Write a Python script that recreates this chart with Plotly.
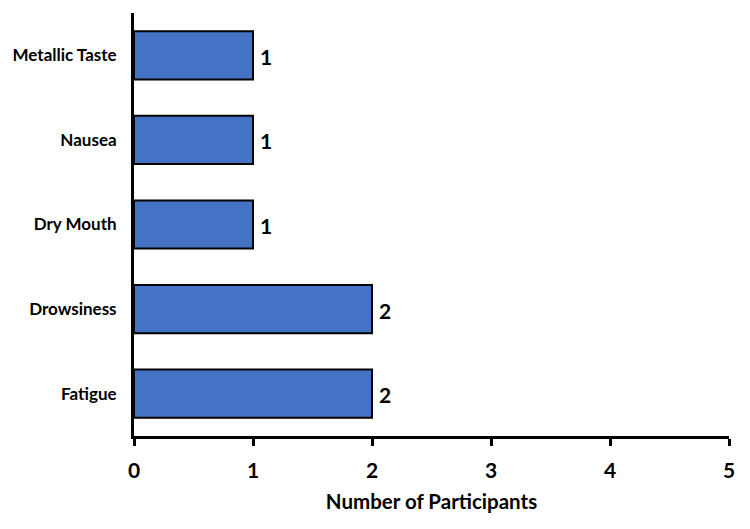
import plotly.graph_objects as go

categories = ["Fatigue", "Drowsiness", "Dry Mouth", "Nausea", "Metallic Taste"]
values = [2, 2, 1, 1, 1]
x_ticks = [0, 1, 2, 3, 4, 5]

FONT = "Lato"

fig = go.Figure(
    go.Bar(
        y=categories,
        x=values,
        orientation="h",
        width=0.57,
        marker=dict(color="#4472C4", line=dict(color="black", width=2)),
        cliponaxis=False,
    )
)

for c, v in zip(categories, values):
    fig.add_annotation(
        x=v, y=c, text=str(v), showarrow=False,
        xanchor="left", xshift=5, yshift=-1,
        font=dict(family=FONT, size=21, color="black", weight="bold"),
    )

fig.update_layout(
    width=750,
    height=529,
    margin=dict(l=134, r=21, t=13, b=93),
    plot_bgcolor="white",
    paper_bgcolor="white",
    showlegend=False,
    font=dict(family=FONT, color="black"),
)

fig.update_xaxes(
    range=[0, 5],
    tickvals=x_ticks,
    ticktext=[str(t) for t in x_ticks],
    automargin=False,
    showgrid=False,
    zeroline=False,
    showline=True,
    linecolor="black",
    linewidth=3,
    ticks="outside",
    ticklen=7,
    tickwidth=3,
    tickcolor="black",
    ticklabelstandoff=7,
    tickfont=dict(family=FONT, size=21, color="black", weight="bold"),
    title=dict(
        text="Number of Participants",
        font=dict(family=FONT, size=20.5, color="black", weight="bold"),
        standoff=14,
    ),
)

fig.update_yaxes(
    range=[-0.5, 4.5],
    automargin=False,
    showgrid=False,
    zeroline=False,
    showline=True,
    linecolor="black",
    linewidth=3,
    ticks="",
    ticklabelstandoff=11,
    tickfont=dict(family=FONT, size=17, color="black", weight="bold"),
)

fig.write_html("out.html")
